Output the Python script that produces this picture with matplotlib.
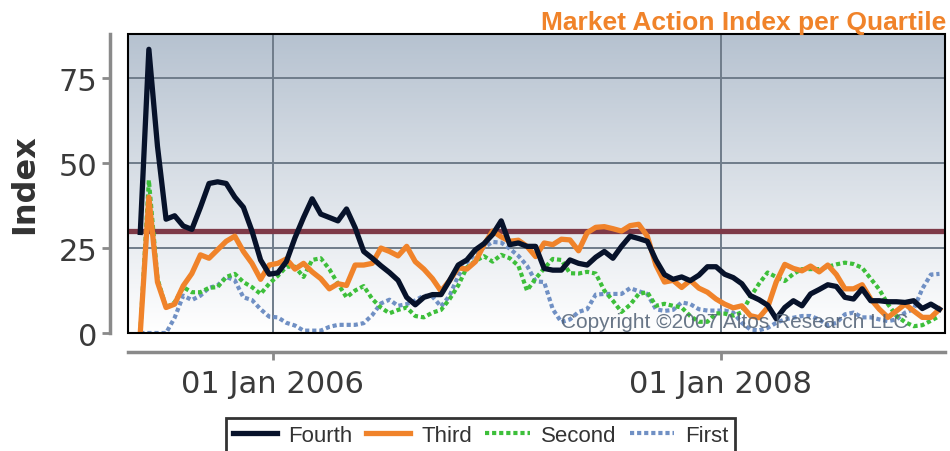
import numpy as np
import pandas as pd
import matplotlib
matplotlib.use('Agg')
import matplotlib.pyplot as plt
import matplotlib.dates as mdates
from matplotlib.colors import LinearSegmentedColormap
from matplotlib.patches import Rectangle

# datos semanales (cada 2 semanas)
fechas = pd.date_range('2005-05-30', periods=94, freq='14D')

fourth = [29.6, 83.5, 55, 33.5, 34.5, 31.5, 30.5, 37, 44, 44.5,
          44, 40, 37, 30, 21.5, 17.3, 17.7, 21, 28, 34,
          39.5, 35, 34, 33, 36.5, 31, 24, 22, 19.8, 17.8,
          15.5, 10.5, 8.3, 10.5, 11.3, 11.3, 15.5, 20, 21.5, 24.5,
          26.3, 29, 33, 26, 26.5, 25.5, 25.5, 19, 18.5, 18.5,
          21.5, 20.5, 20, 22.3, 24, 22, 25.5, 28.5, 27.8, 27,
          21.5, 17.2, 15.8, 16.5, 15.4, 17, 19.5, 19.5, 17.3, 16.3,
          14.5, 11, 9.8, 8.2, 4.2, 7.5, 9.5, 8, 11.5, 12.8,
          14.2, 13.7, 10.5, 10, 13, 9.5, 9.5, 9.2, 9.2, 9,
          9.5, 7.2, 8.5, 7]

third = [0, 40, 15, 7.5, 8.5, 13.9, 17.5, 23, 22, 24.5,
         27, 28.5, 24, 20.5, 15.8, 20, 20.5, 21.8, 18.8, 20.5,
         18, 16, 13, 14.5, 14, 20, 20, 20.5, 25, 24,
         22.7, 25.5, 21, 18.8, 16, 12.3, 15.5, 19.2, 18.8, 21,
         26, 30, 28.3, 27, 27.3, 25.5, 22.5, 26.5, 26, 27.6,
         27.4, 24.2, 29.5, 31.1, 31.3, 30.7, 30, 31.6, 32, 28.5,
         20, 15, 15.5, 13.4, 15.5, 13.2, 12, 10, 8.5, 7.4,
         8, 5.1, 4.5, 7.5, 15, 20.2, 19, 18.3, 19.7, 18,
         20, 17.2, 13, 13, 14.2, 10, 7, 4.6, 6.5, 8.5,
         6.5, 4.6, 4.6, 7]

second = [0, 45, 16, 7.5, 9, 13.5, 12, 12, 13.3, 13.5,
          16.5, 17.4, 15, 13.5, 11.5, 14.5, 16.8, 19.5, 19.5, 16.5,
          21.5, 22, 18.8, 14.5, 10.5, 12.5, 13.8, 10, 7.5, 5.8,
          6.8, 7.5, 5, 4.6, 6, 6.8, 10, 14, 19.3, 21.2,
          22.6, 21, 23, 22, 19.8, 12.5, 16, 19, 21.8, 21.5,
          17.6, 17.5, 18, 17.5, 12.5, 9.5, 6.2, 8.3, 11.5, 12,
          8, 8.6, 8, 7.5, 5, 3.3, 3.3, 5.8, 5.7, 5.1,
          6.1, 10.6, 14.5, 17.8, 16.5, 15.3, 17.4, 18.8, 18.8, 18.8,
          19.5, 20.2, 20.7, 20.3, 19.2, 16, 12.8, 8.5, 5, 3.2,
          2, 2.3, 3.6, 5]

first = [0, 0, 0, 0, 4.5, 11, 9.7, 11, 13.3, 14,
         16.5, 15.5, 10.5, 9.7, 7, 4.8, 4.6, 3, 2.2, 0.7,
         0.7, 0.7, 1.8, 2.4, 2.4, 2.4, 2.9, 5.3, 8.7, 9.8,
         8, 8.5, 9.6, 11, 10.7, 7.8, 11, 16.8, 20.8, 23.3,
         25.2, 26.8, 26.6, 24.8, 22.7, 19.8, 15.2, 15, 7, 3.2,
         4, 6.2, 7, 11.3, 11.5, 11.5, 11.5, 13.2, 12.3, 11.5,
         7, 6.5, 6.8, 9, 8.5, 7, 6.6, 6.6, 6.6, 6,
         3, 1, 0.8, 1.5, 3, 4, 4.5, 5, 5, 4,
         2.2, 3, 5.5, 6, 4.6, 4.6, 4, 3.5, 4, 6,
         7, 13, 17.2, 17.4]

umbral = 30
yticks = [0, 25, 50, 75]
xticks = pd.to_datetime(['2006-01-01', '2008-01-01'])

fig = plt.figure(figsize=(9.5, 4.52), dpi=100)
ax = fig.add_axes([128/950, 1 - 334/452, 817/950, 299/452])

# fondo degradado
cmap = LinearSegmentedColormap.from_list('fondo', ['#ffffff', '#b6c2d0'])
grad = np.linspace(0, 1, 256).reshape(-1, 1)
ax.imshow(grad, extent=[0, 1, 0, 1], transform=ax.transAxes, aspect='auto',
          cmap=cmap, origin='lower', zorder=0)

for t in xticks:
    ax.axvline(t, color='#6f7c8a', lw=1.4, zorder=1)
for v in yticks[1:]:
    ax.axhline(v, color='#6f7c8a', lw=1.4, zorder=1)

ax.axhline(umbral, color='#7e3a48', lw=3.8, zorder=2)

ax.plot(fechas, first, color='#7090c4', lw=3.0, ls=(0, (1, 0.7)), zorder=3, label='First')
ax.plot(fechas, second, color='#3dbf3a', lw=3.0, ls=(0, (1, 0.7)), zorder=4, label='Second')
ax.plot(fechas, third, color='#f0832a', lw=3.8, zorder=5, label='Third')
ax.plot(fechas, fourth, color='#07122a', lw=3.8, zorder=6, label='Fourth')

ax.text(0.53, 0.04, 'Copyright \u00a92007 Altos Research LLC', transform=ax.transAxes,
        ha='left', va='center', fontsize=15, family='Liberation Sans',
        color='#4f5f73', alpha=0.85, zorder=10)

ax.set_xlim(pd.Timestamp('2005-05-10'), pd.Timestamp('2008-12-31'))
ax.set_ylim(0, 88)
ax.set_yticks(yticks)
ax.set_xticks(xticks)
ax.xaxis.set_major_formatter(mdates.DateFormatter('%d %b %Y'))

# marco negro del panel y ejes separados
ax.add_patch(Rectangle((0, 0), 1, 1, transform=ax.transAxes, fill=False,
                       edgecolor='black', lw=1.5, zorder=11, clip_on=False))
for s in ['top', 'right']:
    ax.spines[s].set_visible(False)
ax.spines['left'].set_position(('outward', 13))
ax.spines['bottom'].set_position(('outward', 14))
for s in ['left', 'bottom']:
    ax.spines[s].set_color('#8a8a8a')
    ax.spines[s].set_linewidth(2.5)

ax.tick_params(axis='both', colors='#8a8a8a', length=6, width=2, labelsize=22,
               labelcolor='#3a3a3a')
ax.tick_params(axis='y', pad=3)
ax.tick_params(axis='x', pad=6)

ax.set_ylabel('Index', fontsize=23, fontweight='bold', color='#333333')
ax.yaxis.set_label_coords(-0.108, 0.5)

fig.text(0.996, 1 - 30/452, 'Market Action Index per Quartile', ha='right', va='baseline',
         fontsize=19, fontweight='bold', color='#f0832a', family='Liberation Sans')

h, l = ax.get_legend_handles_labels()
leg = fig.legend(h[::-1], l[::-1], loc='upper center', bbox_to_anchor=(0.506, 1 - 408/452),
                 ncol=4, prop={'family': 'Liberation Sans', 'size': 16},
                 frameon=True, fancybox=False, edgecolor='black', borderpad=0.3,
                 handlelength=2.0, handletextpad=0.5, columnspacing=0.6)
leg.get_frame().set_linewidth(2)
for t in leg.get_texts():
    t.set_color('#333333')

fig.savefig('out.png', dpi=100)
